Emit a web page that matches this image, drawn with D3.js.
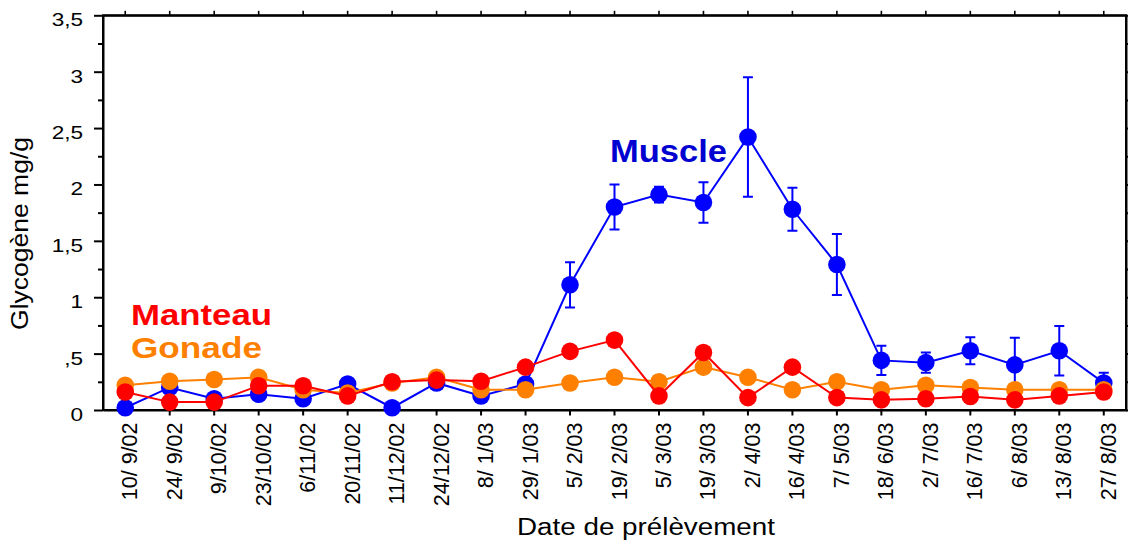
<!DOCTYPE html>
<html>
<head>
<meta charset="utf-8">
<script src="https://cdn.jsdelivr.net/npm/d3@7"></script>
<style>
  html, body { margin: 0; padding: 0; background: #fff; }
  text { font-family: "Liberation Sans", Arial, sans-serif; }
</style>
</head>
<body>
<svg id="chart" width="1128" height="540"></svg>
<script>
const dates = ["10/ 9/02","24/ 9/02","9/10/02","23/10/02","6/11/02","20/11/02","11/12/02","24/12/02","8/ 1/03","29/ 1/03","5/ 2/03","19/ 2/03","5/ 3/03","19/ 3/03","2/ 4/03","16/ 4/03","7/ 5/03","18/ 6/03","2/ 7/03","16/ 7/03","6/ 8/03","13/ 8/03","27/ 8/03"];

const muscle    = [0.02,0.20,0.10,0.14,0.10,0.23,0.02,0.24,0.125,0.23,1.11,1.80,1.91,1.84,2.42,1.78,1.29,0.44,0.42,0.525,0.40,0.525,0.24];
const muscleErr = [0,0,0,0,0,0,0,0,0,0,0.20,0.20,0.07,0.18,0.53,0.19,0.27,0.13,0.09,0.12,0.24,0.22,0.09];
const manteau   = [0.16,0.07,0.07,0.215,0.215,0.125,0.25,0.265,0.255,0.38,0.52,0.62,0.125,0.51,0.11,0.38,0.11,0.09,0.10,0.12,0.09,0.125,0.16];
const gonade    = [0.22,0.255,0.27,0.29,0.18,0.15,0.24,0.29,0.18,0.18,0.24,0.29,0.25,0.38,0.29,0.18,0.25,0.18,0.22,0.20,0.18,0.18,0.18];

const yMajor = [0,0.5,1,1.5,2,2.5,3,3.5];
const yLabels = ["0",",5","1","1,5","2","2,5","3","3,5"];
const yMinor = [0.25,0.75,1.25,1.75,2.25,2.75,3.25];

const svg = d3.select("#chart");
const L = 103, R = 1126, T = 15.3, B = 410;

const x = d3.scaleBand().domain(dates).range([L, R]);
const cx = d => x(d) + x.bandwidth() / 2;
const y = d3.scaleLinear().domain([0, 3.5]).range([B, T]);

function styleAxis(g, w) {
  g.selectAll("path.domain").attr("stroke", "#000").attr("stroke-width", 2);
  g.selectAll(".tick line").attr("stroke", "#000").attr("stroke-width", w);
}

// Left axis
const gl = svg.append("g").attr("transform", `translate(${L},0)`)
  .call(d3.axisLeft(y).tickValues(yMajor).tickSize(9).tickSizeOuter(0).tickFormat(""));
styleAxis(gl, 2);
const glm = svg.append("g").attr("transform", `translate(${L},0)`)
  .call(d3.axisLeft(y).tickValues(yMinor).tickSize(5).tickSizeOuter(0).tickFormat(""));
styleAxis(glm, 2);
glm.select("path.domain").remove();

// Right axis (mirror)
const gr = svg.append("g").attr("transform", `translate(${R},0)`)
  .call(d3.axisRight(y).tickValues(yMajor).tickSize(9).tickSizeOuter(0).tickFormat(""));
styleAxis(gr, 2);
const grm = svg.append("g").attr("transform", `translate(${R},0)`)
  .call(d3.axisRight(y).tickValues(yMinor).tickSize(5).tickSizeOuter(0).tickFormat(""));
styleAxis(grm, 2);
grm.select("path.domain").remove();

// Top axis
const gt = svg.append("g").attr("transform", `translate(0,${T})`)
  .call(d3.axisTop(x).tickSize(4.5).tickSizeOuter(0).tickFormat(""));
styleAxis(gt, 1.6);

// Bottom axis
const gb = svg.append("g").attr("transform", `translate(0,${B})`)
  .call(d3.axisBottom(x).tickSize(5.5).tickSizeOuter(0).tickFormat(""));
styleAxis(gb, 2);

// Frame
svg.append("path")
  .attr("d", `M${L},${T}H${R}V${B}H${L}Z`)
  .attr("fill", "none").attr("stroke", "#000").attr("stroke-width", 2);

// Y tick labels
svg.append("g").selectAll("text").data(yMajor).join("text")
  .attr("transform", (d) => `translate(83,${y(d) + 11}) scale(1.22,1)`)
  .attr("text-anchor", "end")
  .attr("font-size", 18.5)
  .attr("fill", "#000")
  .text((d, i) => yLabels[i]);

// X tick labels
svg.append("g").selectAll("text").data(dates).join("text")
  .attr("transform", d => `translate(${cx(d)},${B}) rotate(-90)`)
  .attr("x", -12.5)
  .attr("y", 12)
  .attr("text-anchor", "end")
  .attr("font-size", 21.5)
  .attr("fill", "#000")
  .text(d => d);

// Axis titles
svg.append("text")
  .attr("x", 517).attr("y", 535)
  .attr("font-size", 23)
  .attr("textLength", 258).attr("lengthAdjust", "spacingAndGlyphs")
  .attr("fill", "#000")
  .text("Date de prélèvement");

svg.append("text")
  .attr("transform", "translate(28,233.5) rotate(-90)")
  .attr("text-anchor", "middle")
  .attr("font-size", 23)
  .attr("textLength", 193).attr("lengthAdjust", "spacingAndGlyphs")
  .attr("fill", "#000")
  .text("Glycogène mg/g");

// Series
const line = d3.line().x((d, i) => cx(dates[i])).y(d => y(d));

function drawSeries(vals, color) {
  const g = svg.append("g");
  g.append("path").datum(vals)
    .attr("d", line).attr("fill", "none")
    .attr("stroke", color).attr("stroke-width", 2);
  g.selectAll("circle").data(vals).join("circle")
    .attr("cx", (d, i) => cx(dates[i]))
    .attr("cy", d => y(d))
    .attr("r", 8.8)
    .attr("fill", color);
  return g;
}

// Muscle with error bars
const gm = svg.append("g");
const errIdx = muscle.map((v, i) => i).filter(i => muscleErr[i] > 0);
gm.selectAll("path.err").data(errIdx).join("path")
  .attr("class", "err")
  .attr("d", i => {
    const px = cx(dates[i]);
    const y1 = y(muscle[i] + muscleErr[i]), y0 = y(muscle[i] - muscleErr[i]);
    return `M${px},${y0}V${y1}M${px - 5},${y1}H${px + 5}M${px - 5},${y0}H${px + 5}`;
  })
  .attr("fill", "none").attr("stroke", "#0000ff").attr("stroke-width", 2);
drawSeries(muscle, "#0000ff");
drawSeries(gonade, "#ff8000");
drawSeries(manteau, "#ff0000");

// Series labels
svg.append("text").attr("x", 610).attr("y", 161.5)
  .attr("font-size", 31.5).attr("font-weight", "bold")
  .attr("textLength", 117).attr("lengthAdjust", "spacingAndGlyphs")
  .attr("fill", "#0000d0").text("Muscle");
svg.append("text").attr("x", 131).attr("y", 325)
  .attr("font-size", 30).attr("font-weight", "bold")
  .attr("textLength", 141).attr("lengthAdjust", "spacingAndGlyphs")
  .attr("fill", "#ff0000").text("Manteau");
svg.append("text").attr("x", 131).attr("y", 358)
  .attr("font-size", 30).attr("font-weight", "bold")
  .attr("textLength", 131).attr("lengthAdjust", "spacingAndGlyphs")
  .attr("fill", "#ff8000").text("Gonade");
</script>
</body>
</html>
